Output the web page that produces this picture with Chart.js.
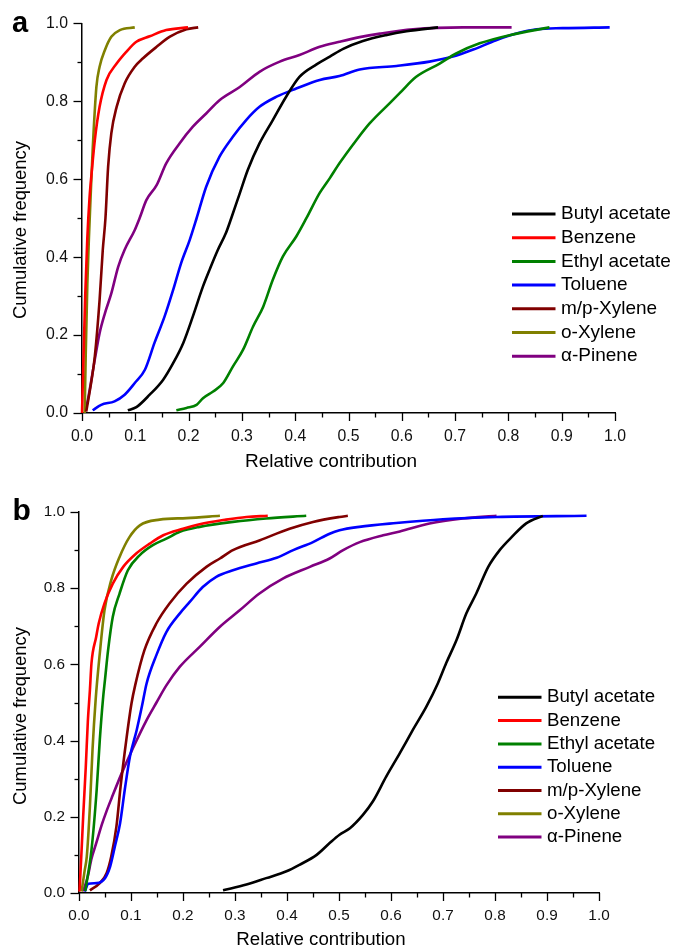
<!DOCTYPE html>
<html>
<head>
<meta charset="utf-8">
<script src="https://cdn.jsdelivr.net/npm/chart.js@4.4.0/dist/chart.umd.min.js"></script>
<style>
  html, body { margin: 0; padding: 0; background: #fff; }
  #wrap { position: relative; width: 676px; height: 949px; overflow: hidden; }
  canvas { position: absolute; left: 0; }
  #chartA { top: 0; }
  #chartB { top: 480px; }
</style>
</head>
<body>
<div id="wrap">
  <canvas id="chartA" width="676" height="480"></canvas>
  <canvas id="chartB" width="676" height="469"></canvas>
</div>
<script>
var names = ["Butyl acetate", "Benzene", "Ethyl acetate", "Toluene", "m/p-Xylene", "o-Xylene", "\u03b1-Pinene"];
var colors = ["#000000", "#ff0000", "#008000", "#0000ff", "#800000", "#808000", "#800080"];

// panel a
var aButylX = [0.086, 0.102, 0.127, 0.152, 0.171, 0.19, 0.208, 0.227, 0.24, 0.255, 0.27, 0.28, 0.296, 0.311, 0.333, 0.358, 0.383, 0.408, 0.44, 0.465, 0.49, 0.527, 0.57, 0.609, 0.668];
var aButylY = [0.007, 0.015, 0.047, 0.085, 0.128, 0.18, 0.248, 0.325, 0.37, 0.419, 0.462, 0.5, 0.564, 0.624, 0.692, 0.752, 0.812, 0.863, 0.895, 0.915, 0.935, 0.955, 0.97, 0.98, 0.99];
var aBenzX = [0.0, 0.002, 0.006, 0.01, 0.014, 0.019, 0.024, 0.033, 0.046, 0.065, 0.083, 0.102, 0.127, 0.158, 0.199];
var aBenzY = [0.0, 0.1, 0.3, 0.45, 0.55, 0.63, 0.7, 0.786, 0.855, 0.897, 0.927, 0.953, 0.967, 0.983, 0.99];
var aEthylX = [0.177, 0.196, 0.215, 0.227, 0.246, 0.265, 0.283, 0.302, 0.321, 0.34, 0.358, 0.377, 0.402, 0.421, 0.446, 0.465, 0.483, 0.515, 0.54, 0.577, 0.596, 0.627, 0.671, 0.702, 0.746, 0.802, 0.877];
var aEthylY = [0.007, 0.013, 0.021, 0.038, 0.055, 0.077, 0.119, 0.162, 0.222, 0.273, 0.342, 0.402, 0.453, 0.5, 0.565, 0.603, 0.641, 0.701, 0.744, 0.795, 0.821, 0.863, 0.897, 0.923, 0.949, 0.97, 0.99];
var aTolX = [0.02, 0.036, 0.061, 0.08, 0.099, 0.118, 0.136, 0.155, 0.171, 0.186, 0.202, 0.215, 0.233, 0.258, 0.283, 0.308, 0.333, 0.365, 0.402, 0.446, 0.483, 0.521, 0.59, 0.652, 0.696, 0.734, 0.777, 0.815, 0.853, 0.902, 0.99];
var aTolY = [0.007, 0.021, 0.03, 0.047, 0.077, 0.111, 0.18, 0.248, 0.316, 0.385, 0.444, 0.5, 0.581, 0.658, 0.709, 0.752, 0.786, 0.812, 0.833, 0.855, 0.865, 0.882, 0.891, 0.902, 0.915, 0.933, 0.957, 0.974, 0.985, 0.988, 0.99];
var aMpX = [0.008, 0.018, 0.024, 0.033, 0.039, 0.044, 0.049, 0.055, 0.065, 0.08, 0.099, 0.114, 0.14, 0.165, 0.196, 0.218];
var aMpY = [0.004, 0.085, 0.145, 0.29, 0.419, 0.5, 0.632, 0.718, 0.786, 0.846, 0.889, 0.91, 0.94, 0.966, 0.985, 0.99];
var aOX = [0.005, 0.007, 0.01, 0.013, 0.016, 0.02, 0.027, 0.033, 0.043, 0.055, 0.071, 0.099];
var aOY = [0.0, 0.15, 0.33, 0.45, 0.55, 0.675, 0.837, 0.889, 0.932, 0.966, 0.983, 0.99];
var aPinX = [0.006, 0.011, 0.024, 0.033, 0.043, 0.055, 0.068, 0.08, 0.099, 0.108, 0.121, 0.14, 0.158, 0.183, 0.208, 0.233, 0.258, 0.296, 0.333, 0.371, 0.408, 0.446, 0.483, 0.521, 0.559, 0.621, 0.715, 0.806];
var aPinY = [0.004, 0.034, 0.137, 0.205, 0.256, 0.307, 0.376, 0.419, 0.47, 0.5, 0.547, 0.585, 0.641, 0.692, 0.735, 0.769, 0.803, 0.837, 0.876, 0.902, 0.919, 0.94, 0.953, 0.965, 0.974, 0.985, 0.99, 0.99];

// panel b
var bButylX = [0.277, 0.322, 0.36, 0.399, 0.424, 0.457, 0.482, 0.501, 0.521, 0.546, 0.565, 0.591, 0.617, 0.642, 0.668, 0.69, 0.706, 0.726, 0.745, 0.764, 0.787, 0.809, 0.832, 0.86, 0.892];
var bButylY = [0.007, 0.022, 0.039, 0.057, 0.074, 0.1, 0.131, 0.153, 0.17, 0.205, 0.24, 0.306, 0.367, 0.428, 0.489, 0.55, 0.603, 0.664, 0.734, 0.786, 0.856, 0.9, 0.934, 0.97, 0.99];
var bBenzX = [0.001, 0.005, 0.008, 0.013, 0.017, 0.021, 0.024, 0.033, 0.038, 0.049, 0.065, 0.085, 0.11, 0.136, 0.162, 0.2, 0.232, 0.283, 0.322, 0.363];
var bBenzY = [0.004, 0.113, 0.2, 0.33, 0.45, 0.533, 0.603, 0.672, 0.708, 0.76, 0.812, 0.856, 0.891, 0.917, 0.939, 0.956, 0.968, 0.98, 0.987, 0.99];
var bEthylX = [0.012, 0.024, 0.034, 0.04, 0.046, 0.05, 0.056, 0.065, 0.078, 0.094, 0.117, 0.142, 0.168, 0.194, 0.232, 0.296, 0.36, 0.437];
var bEthylY = [0.005, 0.113, 0.271, 0.402, 0.507, 0.56, 0.638, 0.725, 0.786, 0.847, 0.887, 0.913, 0.93, 0.948, 0.961, 0.974, 0.983, 0.99];
var bTolX = [0.011, 0.018, 0.034, 0.05, 0.06, 0.069, 0.079, 0.088, 0.098, 0.111, 0.121, 0.13, 0.149, 0.168, 0.194, 0.213, 0.238, 0.264, 0.296, 0.341, 0.38, 0.412, 0.45, 0.482, 0.501, 0.539, 0.61, 0.7, 0.803, 0.976];
var bTolY = [0.004, 0.024, 0.026, 0.039, 0.07, 0.122, 0.183, 0.271, 0.358, 0.428, 0.49, 0.55, 0.625, 0.685, 0.734, 0.764, 0.803, 0.83, 0.847, 0.865, 0.88, 0.9, 0.921, 0.943, 0.952, 0.961, 0.971, 0.981, 0.987, 0.99];
var bMpX = [0.021, 0.04, 0.053, 0.062, 0.072, 0.08, 0.091, 0.101, 0.108, 0.126, 0.149, 0.174, 0.207, 0.245, 0.271, 0.296, 0.348, 0.405, 0.45, 0.501, 0.517];
var bMpY = [0.007, 0.026, 0.052, 0.096, 0.175, 0.28, 0.402, 0.498, 0.545, 0.638, 0.708, 0.76, 0.812, 0.856, 0.878, 0.9, 0.926, 0.956, 0.974, 0.987, 0.99];
var bOX = [0.005, 0.011, 0.015, 0.021, 0.026, 0.032, 0.04, 0.049, 0.062, 0.078, 0.097, 0.117, 0.155, 0.207, 0.271];
var bOY = [0.004, 0.06, 0.096, 0.227, 0.376, 0.507, 0.629, 0.742, 0.821, 0.882, 0.934, 0.965, 0.98, 0.984, 0.99];
var bPinX = [0.008, 0.017, 0.024, 0.033, 0.044, 0.053, 0.063, 0.082, 0.105, 0.13, 0.149, 0.168, 0.194, 0.232, 0.271, 0.309, 0.347, 0.392, 0.444, 0.482, 0.508, 0.54, 0.585, 0.617, 0.674, 0.738, 0.803];
var bPinY = [0.004, 0.044, 0.09, 0.13, 0.18, 0.215, 0.25, 0.314, 0.384, 0.454, 0.5, 0.545, 0.594, 0.646, 0.699, 0.742, 0.786, 0.825, 0.856, 0.878, 0.9, 0.921, 0.939, 0.949, 0.97, 0.983, 0.99];

var panelA = [[aButylX, aButylY], [aBenzX, aBenzY], [aEthylX, aEthylY], [aTolX, aTolY], [aMpX, aMpY], [aOX, aOY], [aPinX, aPinY]];
var panelB = [[bButylX, bButylY], [bBenzX, bBenzY], [bEthylX, bEthylY], [bTolX, bTolY], [bMpX, bMpY], [bOX, bOY], [bPinX, bPinY]];

var FONT = "'Liberation Sans', Arial, sans-serif";

function makeSets(panel) {
    return panel.map(function (s, i) {
        return {
            label: names[i],
            data: s[0].map(function (x, k) { return {x: x, y: s[1][k]}; }),
            borderColor: colors[i],
            backgroundColor: colors[i],
            borderWidth: 2.6,
            pointRadius: 0,
            showLine: true,
            cubicInterpolationMode: "monotone",
            clip: 6
        };
    });
}

// ticks, titles, legend and the panel letter
var decor = {
    id: "decor",
    afterDraw: function (chart, args, o) {
        var ctx = chart.ctx;
        var xs = chart.scales.x, ys = chart.scales.y;
        var area = chart.chartArea;
        ctx.save();
        ctx.strokeStyle = "#000";
        ctx.lineWidth = 1.3;
        xs.ticks.forEach(function (t) {
            var major = Math.round(t.value * 100) % 10 === 0;
            var px = Math.round(xs.getPixelForValue(t.value)) + 0.5;
            ctx.beginPath();
            ctx.moveTo(px, area.bottom);
            ctx.lineTo(px, area.bottom + (major ? 8 : 4.5));
            ctx.stroke();
        });
        ys.ticks.forEach(function (t) {
            var major = Math.round(t.value * 100) % 20 === 0;
            var py = Math.round(ys.getPixelForValue(t.value)) + 0.5;
            ctx.beginPath();
            ctx.moveTo(area.left, py);
            ctx.lineTo(area.left - (major ? 8.5 : 4.5), py);
            ctx.stroke();
        });

        ctx.fillStyle = "#000";
        ctx.font = o.titleSize + "px " + FONT;
        ctx.textAlign = "center";
        ctx.textBaseline = "middle";
        ctx.fillText("Relative contribution", o.xTitle[0], o.xTitle[1]);
        ctx.save();
        ctx.font = o.yTitleSize + "px " + FONT;
        ctx.translate(o.yTitle[0], o.yTitle[1]);
        ctx.rotate(-Math.PI / 2);
        ctx.fillText("Cumulative frequency", 0, 0);
        ctx.restore();

        ctx.font = "bold " + o.letterSize + "px " + FONT;
        ctx.textAlign = "left";
        ctx.textBaseline = "alphabetic";
        ctx.fillText(o.letter, o.letterPos[0], o.letterPos[1]);

        ctx.font = o.titleSize + "px " + FONT;
        ctx.textBaseline = "middle";
        chart.data.datasets.forEach(function (ds, i) {
            var y = o.legend.y + i * o.legend.gap;
            ctx.strokeStyle = ds.borderColor;
            ctx.lineWidth = 3;
            ctx.beginPath();
            ctx.moveTo(o.legend.x, y);
            ctx.lineTo(o.legend.x + o.legend.len, y);
            ctx.stroke();
            ctx.fillStyle = "#000";
            ctx.fillText(ds.label, o.legend.x + o.legend.len + 5.5, y);
        });
        ctx.restore();
    }
};

function makeChart(id, panel, lay) {
    return new Chart(id, {
        type: "scatter",
        data: {datasets: makeSets(panel)},
        options: {
            responsive: false,
            animation: false,
            devicePixelRatio: 1,
            layout: {padding: {left: 0, right: lay.right, top: lay.top, bottom: 0}},
            plugins: {
                legend: {display: false},
                tooltip: {enabled: false},
                decor: lay.decor
            },
            scales: {
                x: {
                    type: "linear",
                    min: 0,
                    max: 1,
                    grid: {display: false, drawTicks: false},
                    border: {display: true, color: "#000", width: 1.5},
                    afterFit: function (s) { s.height = lay.xh; },
                    ticks: {
                        stepSize: 0.05,
                        autoSkip: false,
                        maxRotation: 0,
                        padding: 14,
                        color: "#111",
                        font: {family: FONT, size: lay.tickSize},
                        callback: function (v) {
                            return Math.round(v * 100) % 10 === 0 ? v.toFixed(1) : "";
                        }
                    }
                },
                y: {
                    type: "linear",
                    min: 0,
                    max: 1,
                    grid: {display: false, drawTicks: false},
                    border: {display: true, color: "#000", width: 1.5},
                    afterFit: function (s) { s.width = lay.yw; },
                    ticks: {
                        stepSize: 0.1,
                        autoSkip: false,
                        padding: 14,
                        color: "#111",
                        font: {family: FONT, size: lay.tickSize},
                        callback: function (v) {
                            return Math.round(v * 100) % 20 === 0 ? v.toFixed(1) : "";
                        }
                    }
                }
            }
        },
        plugins: [decor]
    });
}

makeChart("chartA", panelA, {
    right: 61, top: 23, xh: 67, yw: 82, tickSize: 15.8,
    decor: {
        titleSize: 19, yTitleSize: 18.4, xTitle: [331, 462], yTitle: [21, 230],
        letter: "a", letterSize: 29, letterPos: [12, 31.5],
        legend: {x: 512, len: 43.5, y: 214, gap: 23.7}
    }
});

makeChart("chartB", panelB, {
    right: 77, top: 32, xh: 56, yw: 79, tickSize: 15.3,
    decor: {
        titleSize: 18.7, yTitleSize: 18.4, xTitle: [321, 460], yTitle: [20.5, 236],
        letter: "b", letterSize: 30, letterPos: [12.5, 40],
        legend: {x: 498, len: 43.5, y: 217.3, gap: 23.3}
    }
});
</script>
</body>
</html>
